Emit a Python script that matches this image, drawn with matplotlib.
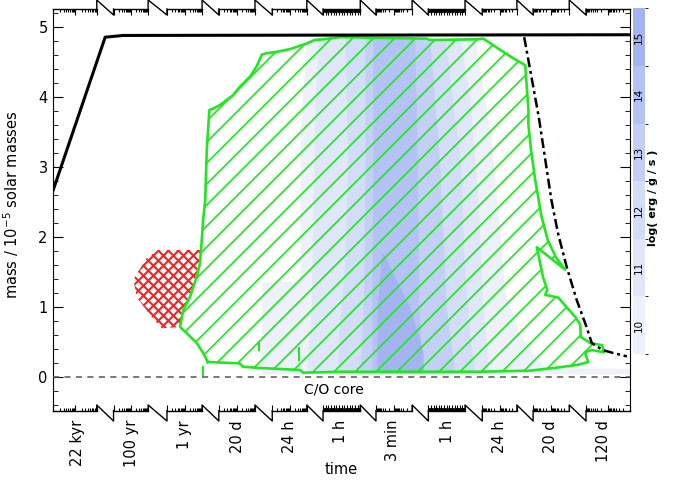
import numpy as np
import matplotlib.pyplot as plt
import matplotlib.transforms as mtransforms
from matplotlib.collections import LineCollection
from matplotlib.colors import ListedColormap, BoundaryNorm
from matplotlib.colorbar import ColorbarBase
from matplotlib.patches import Polygon
from matplotlib.ticker import MultipleLocator

plt.rcParams['font.family'] = ['DejaVu Sans']

# broken time axis: 11 segments, x given in segment units (0..11)
seg_labels = ['22 kyr', '100 yr', '1 yr', '20 d', '24 h', '1 h',
              '3 min', '1 h', '24 h', '20 d', '120 d']
seg_label_pos = [0.47, 1.50, 2.50, 3.51, 4.50, 5.49, 6.48, 7.52, 8.51, 9.50, 10.51]
seg_start = [0.0, 1.15, 2.17, 3.16, 4.18, 5.15, 6.16, 7.16, 8.19, 9.16, 10.17]
seg_end = [0.83, 1.81, 2.84, 3.85, 4.84, 5.86, 6.85, 7.86, 8.85, 9.85, 11.0]
seg_decades = [2, 2, 2, 2, 2, 14, 2, 14, 2, 2, 2]

# total stellar mass (solid black)
star_u = [0.0, 0.99, 1.33, 5.3, 11.0]
star_m = [2.67, 4.85, 4.875, 4.88, 4.885]

# dash-dot boundary
dd_u = [8.99, 9.27, 9.51, 9.635, 9.80, 9.99, 10.18, 10.28, 10.49, 10.68, 10.95]
dd_m = [4.85, 3.70, 2.52, 2.05, 1.57, 1.10, 0.71, 0.48, 0.38, 0.34, 0.29]

# convective zone outline (green, hatched)
conv_u = [2.95, 2.86, 2.74, 2.55, 2.42, 2.48, 2.61, 2.74, 2.80, 2.83, 2.86, 2.90,
          2.93, 2.98, 3.05, 3.18, 3.43, 3.56, 3.76, 3.88, 3.98, 4.07, 4.26, 4.52,
          4.84, 4.99, 5.15, 5.47, 7.13, 7.19, 8.08, 8.21, 8.53, 8.78, 9.01, 9.07,
          9.07, 9.12, 9.20, 9.32, 9.44, 9.60, 9.77, 9.23, 9.35, 9.43, 9.39, 9.64,
          9.98, 10.06, 10.07, 10.25, 10.48, 10.51, 10.28, 10.15, 10.21, 10.02, 9.62,
          9.10, 8.15, 5.47, 4.77, 4.71, 3.95, 3.62, 3.56]
conv_m = [0.21, 0.34, 0.48, 0.62, 0.71, 0.95, 1.14, 1.43, 1.62, 1.91, 2.24, 2.52,
          3.24, 3.81, 3.83, 3.88, 4.02, 4.14, 4.29, 4.43, 4.60, 4.62, 4.64, 4.68,
          4.76, 4.81, 4.82, 4.85, 4.83, 4.81, 4.82, 4.83, 4.67, 4.55, 4.45, 3.81,
          3.60, 3.24, 2.81, 2.29, 1.95, 1.70, 1.53, 1.85, 1.42, 1.24, 1.17, 1.13,
          0.84, 0.74, 0.57, 0.48, 0.45, 0.35, 0.38, 0.35, 0.21, 0.17, 0.13,
          0.086, 0.071, 0.071, 0.057, 0.096, 0.124, 0.143, 0.19]

# small convective episodes near the core
spike_u = [2.85, 3.93, 4.70]
spike_lo = [0.02, 0.38, 0.24]
spike_hi = [0.14, 0.48, 0.41]

# semiconvective / overshoot region (red cross-hatch)
red_u = [1.78, 2.00, 2.80, 2.80, 2.74, 2.61, 2.48, 2.42, 2.07, 1.85, 1.59, 1.53]
red_m = [1.69, 1.81, 1.81, 1.62, 1.43, 1.14, 0.95, 0.71, 0.69, 0.88, 1.14, 1.39]

# energy generation, log(erg/g/s) levels: mass rows with left/right edges
eps_levels = [10, 11, 12, 13, 14, 15]
eps_colors = ['#eef1fc', '#e1e7fb', '#d3dcf9', '#c4cff7', '#b4c2f5', '#a4b4f3']
eps_m = [
    [0.04, 0.12, 0.13, 0.30, 0.60, 1.20, 1.35, 1.37, 2.00, 3.50, 4.83],
    [0.05, 0.30, 1.00, 2.50, 4.00, 4.83],
    [0.05, 0.60, 1.50, 3.00, 4.83],
    [0.05, 1.00, 3.00, 4.83],
    [0.05, 1.00, 3.00, 4.83],
    [0.06, 0.34, 0.99, 1.77],
]
eps_left = [
    [3.98, 3.98, 3.98, 3.98, 3.98, 3.98, 3.98, 4.71, 4.71, 4.71, 4.84],
    [4.84, 4.86, 4.92, 4.96, 5.00, 5.06],
    [5.42, 5.45, 5.55, 5.62, 5.57],
    [5.85, 5.92, 5.95, 5.95],
    [6.08, 6.08, 6.10, 6.10],
    [6.18, 6.18, 6.18, 6.27],
]
eps_right = [
    [11.0, 11.0, 9.39, 9.20, 8.91, 8.62, 8.60, 8.60, 8.53, 8.34, 8.05],
    [8.28, 8.30, 8.20, 8.11, 7.95, 7.77],
    [8.05, 7.95, 7.85, 7.78, 7.48],
    [7.67, 7.50, 7.38, 7.19],
    [7.05, 6.98, 6.95, 6.90],
    [7.06, 7.06, 6.81, 6.29],
]

green = '#1fe81f'
red = '#ff1e1e'


def hatch(ax, patch, step, phase, slopes, color, lw, W, H, z):
    """Diagonal hatching at 45 deg in pixel space, clipped to a patch."""
    big = W + H
    segs = []
    for sgn in slopes:
        for c in np.arange(-big + phase, big, step):
            if sgn > 0:
                segs.append([((c - big) / W, -big / H), ((c + big) / W, big / H)])
            else:
                segs.append([((c + big) / W, -big / H), ((c - big) / W, big / H)])
    lc = LineCollection(segs, colors=color, linewidths=lw,
                        transform=ax.transAxes, zorder=z)
    ax.add_collection(lc, autolim=False)
    lc.set_clip_path(patch)


fig = plt.figure(figsize=(6.83, 4.82), dpi=100)
ax = fig.add_axes([0.07804, 0.14793, 0.84363, 0.83340])
ax.set_xlim(0, 11)
ax.set_ylim(-0.486, 5.253)
W = 0.84363 * 683
H = 0.83340 * 482

# energy generation shading
for m, l, r, c in zip(eps_m, eps_left, eps_right, eps_colors):
    ax.fill_betweenx(m, l, r, color=c, lw=0, zorder=1)

# convective zone
conv = Polygon(np.column_stack([conv_u, conv_m]), closed=True,
               fc='none', ec='none')
ax.add_patch(conv)
hatch(ax, conv, 21, 1.7, (1,), green, 1.25, W, H, 2)
ax.plot(conv_u + conv_u[:1], conv_m + conv_m[:1], color=green, lw=1.9, zorder=3)
for u, lo, hi in zip(spike_u, spike_lo, spike_hi):
    ax.plot([u, u], [lo, hi], color=green, lw=1.5, zorder=3)

# red cross-hatched region
redp = Polygon(np.column_stack([red_u, red_m]), closed=True, fc='none', ec='none')
ax.add_patch(redp)
hatch(ax, redp, 10, 3, (1, -1), red, 1.5, W, H, 2)

# lines
ax.axhline(0, color='#555555', ls=(0, (4, 3.5)), lw=1.1, zorder=3)
ax.plot(star_u, star_m, color='k', lw=2.2, zorder=4)
ax.plot(dd_u, dd_m, color='k', lw=1.8, ls=(0, (4, 1.5, 1.2, 1.5)), zorder=4)
ax.text(5.36, -0.18, 'C/O core', ha='center', va='center', fontsize=10)

# y axis
for s in ['top', 'bottom']:
    ax.spines[s].set_visible(False)
ax.yaxis.set_major_locator(MultipleLocator(1))
ax.yaxis.set_minor_locator(MultipleLocator(0.2))
ax.tick_params(axis='y', which='both', direction='in', right=True, labelsize=10.5, pad=4)
ax.tick_params(axis='y', which='major', length=7.5)
ax.tick_params(axis='y', which='minor', length=3.6)
ax.set_xticks([])
ax.set_ylabel('mass / 10$^{-5}$ solar masses', fontsize=10.5)
ax.yaxis.set_label_coords(-0.056, 0.512)

# broken top / bottom axes
trans = mtransforms.blended_transform_factory(ax.transData, ax.transAxes)
for y0, sgn, up, down in [(0.0, 1, 5.7, 10.3), (1.0, -1, 9.0, 6.0)]:
    for k in range(11):
        xs, xe = seg_start[k], seg_end[k]
        ax.plot([xs, xe], [y0, y0], color='k', lw=1, transform=trans,
                clip_on=False, zorder=5)
        n = seg_decades[k]
        fr, big = [], []
        for d in range(n):
            for j in range(1, 10):
                fr.append((d + np.log10(j)) / n)
                big.append(j == 1)
        fr.append(1.0)
        big.append(True)
        fr = np.array(fr)
        if k >= 6:
            fr = 1 - fr
        xt = xs + fr * (xe - xs)
        segs = [[(x, y0), (x, y0 + sgn * (6.0 if b else 3.0) / H)]
                for x, b in zip(xt, big)]
        ax.add_collection(LineCollection(segs, colors='k', linewidths=0.8,
                                         transform=trans, clip_on=False,
                                         zorder=5), autolim=False)
        if k < 10:
            xn = seg_start[k + 1]
            ax.plot([xe, xe, xn, xn],
                    [y0, y0 + up / H, y0 - down / H, y0],
                    color='k', lw=1, transform=trans, clip_on=False, zorder=5)

for x, lab in zip(seg_label_pos, seg_labels):
    ax.text(x, -9.3 / H, lab, rotation=90, ha='center', va='top',
            fontsize=10.5, transform=trans)
fig.text(341 / 683, 1 - 470 / 482, 'time', ha='center', va='center', fontsize=10.5)

# colour bar
cax = fig.add_axes([0.9268, 0.2656, 0.01757, 0.7172])
bounds = [9.5, 10.5, 11.5, 12.5, 13.5, 14.5, 15.5]
cb = ColorbarBase(cax, cmap=ListedColormap(eps_colors),
                  norm=BoundaryNorm(bounds, len(eps_colors)),
                  orientation='vertical')
cb.outline.set_visible(False)
cax.set_xticks([])
cax.set_yticks([])
for lev in eps_levels:
    cax.text(0.45, (lev - 9.5) / 6.0, str(lev), rotation=90, ha='center',
             va='center', fontsize=7.5, transform=cax.transAxes)
fig.text(653 / 683, 1 - 198 / 482, 'log( erg / g / s )', rotation=90,
         ha='center', va='center', fontsize=8, fontweight='bold')

fig.savefig('out.png', dpi=100)
